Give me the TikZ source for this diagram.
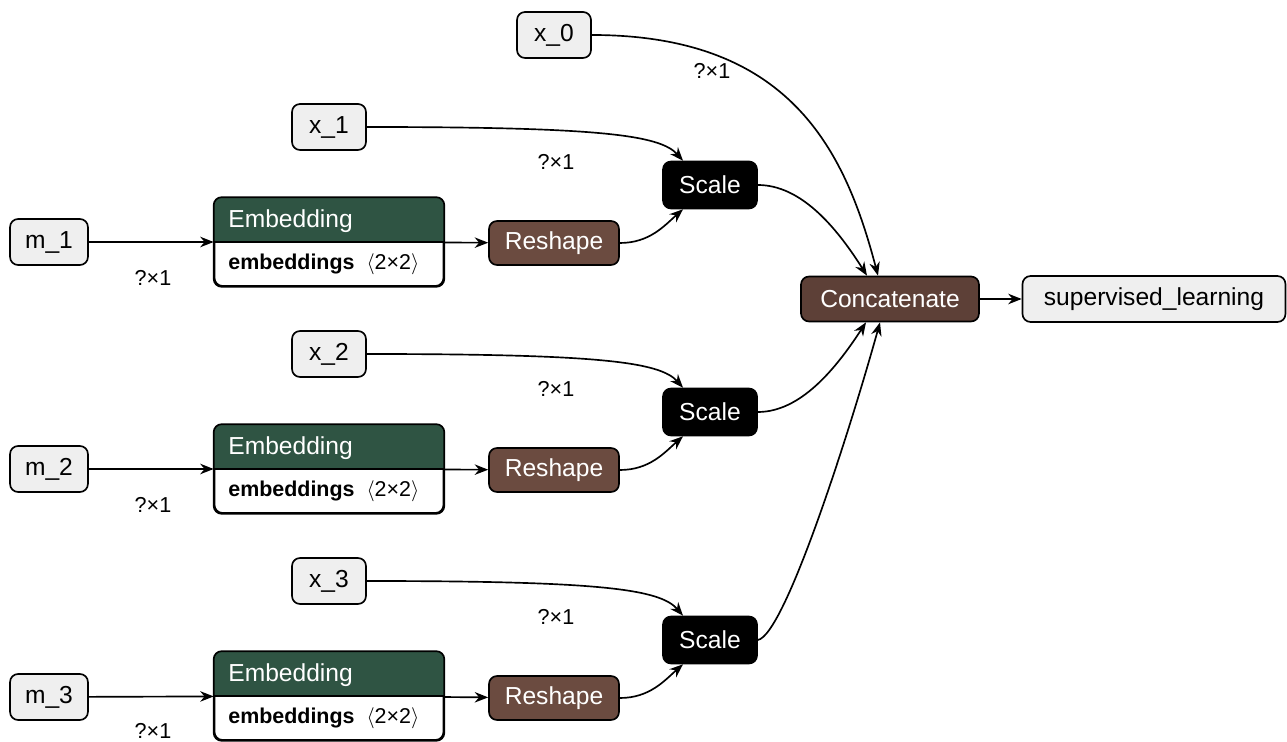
\documentclass[tikz,border=0pt]{standalone}
\usepackage{fontspec}
\setmainfont{Liberation Sans}
\usetikzlibrary{arrows.meta,calc}

\definecolor{inputgray}{HTML}{EFEFEF}
\definecolor{embgreen}{HTML}{2F5443}
\definecolor{reshapebrown}{HTML}{6B4B40}
\definecolor{concatbrown}{HTML}{5D4037}

\tikzstyle{box} = [draw=black, line width=0.95pt, rounded corners=0.16cm, font=\fontsize{14}{17}\selectfont]
\tikzstyle{iobox} = [box, fill=inputgray, minimum height=0.92cm, minimum width=1.48cm, inner xsep=0.3cm]
\tikzstyle{scalebox} = [box, fill=black, text=white, minimum height=0.94cm, minimum width=1.88cm]
\tikzstyle{reshapebox} = [box, fill=reshapebrown, text=white, minimum height=0.88cm, minimum width=2.6cm]
\tikzstyle{concatbox} = [box, fill=concatbrown, text=white, minimum height=0.9cm, minimum width=3.56cm]
\tikzstyle{embbox} = [box, fill=white, minimum height=1.76cm, minimum width=4.58cm]
\tikzstyle{embtitle} = [anchor=west, text=white, inner sep=0pt, font=\fontsize{14}{17}\selectfont]
\tikzstyle{embparam} = [anchor=west, inner sep=0pt, font=\fontsize{12.2}{14}\selectfont]
\tikzstyle{dimlabel} = [inner sep=0pt, font=\fontsize{12.3}{14}\selectfont]
\tikzstyle{link} = [line width=0.95pt, -{Stealth[length=0.27cm, width=0.21cm]}]

\begin{document}
\begin{tikzpicture}[x=0.02cm, y=-0.02cm]
\useasboundingbox (0,0) rectangle (1287,742);

% inputs
\node[iobox] (x0) at (554,35) {x\_0};
\node[iobox] (x1) at (329,127) {x\_1};
\node[iobox] (x2) at (329,354) {x\_2};
\node[iobox] (x3) at (329,581) {x\_3};
\node[iobox] (m1) at (49,242) {m\_1};
\node[iobox] (m2) at (49,469) {m\_2};
\node[iobox] (m3) at (49,697) {m\_3};

% embeddings
\node[embbox] (emb1) at (329,242) {};
\begin{scope}
  \clip (emb1.north west) rectangle (emb1.east);
  \fill[embgreen, rounded corners=0.16cm] (emb1.north west) rectangle (emb1.south east);
\end{scope}
\draw[line width=0.95pt, rounded corners=0.16cm] (emb1.north west) rectangle (emb1.south east);
\draw[line width=0.95pt] (emb1.west) -- (emb1.east);
\node[embtitle] (emb1t) at (228,221) {Embedding};
\node[embparam] (emb1p) at (228,264) {\textbf{embeddings}\ \ $\langle$2×2$\rangle$};

\node[embbox] (emb2) at (329,469) {};
\begin{scope}
  \clip (emb2.north west) rectangle (emb2.east);
  \fill[embgreen, rounded corners=0.16cm] (emb2.north west) rectangle (emb2.south east);
\end{scope}
\draw[line width=0.95pt, rounded corners=0.16cm] (emb2.north west) rectangle (emb2.south east);
\draw[line width=0.95pt] (emb2.west) -- (emb2.east);
\node[embtitle] (emb2t) at (228,448) {Embedding};
\node[embparam] (emb2p) at (228,491) {\textbf{embeddings}\ \ $\langle$2×2$\rangle$};

\node[embbox] (emb3) at (329,696) {};
\begin{scope}
  \clip (emb3.north west) rectangle (emb3.east);
  \fill[embgreen, rounded corners=0.16cm] (emb3.north west) rectangle (emb3.south east);
\end{scope}
\draw[line width=0.95pt, rounded corners=0.16cm] (emb3.north west) rectangle (emb3.south east);
\draw[line width=0.95pt] (emb3.west) -- (emb3.east);
\node[embtitle] (emb3t) at (228,675) {Embedding};
\node[embparam] (emb3p) at (228,718) {\textbf{embeddings}\ \ $\langle$2×2$\rangle$};

% layers
\node[reshapebox] (rs1) at (554,243) {Reshape};
\node[reshapebox] (rs2) at (554,470) {Reshape};
\node[reshapebox] (rs3) at (554,698) {Reshape};
\node[scalebox] (sc1) at (710,185) {Scale};
\node[scalebox] (sc2) at (710,412) {Scale};
\node[scalebox] (sc3) at (710,640) {Scale};
\node[concatbox] (cat) at (890,299) {Concatenate};
\node[iobox, minimum width=5.26cm] (out) at (1154,299) {supervised\_learning};

% shape labels
\node[dimlabel] (d0) at (712,71) {?×1};
\node[dimlabel] (d1) at (556,162) {?×1};
\node[dimlabel] (d2) at (556,389) {?×1};
\node[dimlabel] (d3) at (556,617) {?×1};
\node[dimlabel] (dm1) at (153,278) {?×1};
\node[dimlabel] (dm2) at (153,505) {?×1};
\node[dimlabel] (dm3) at (153,731) {?×1};

% connections
\draw[link] (m1) -- (emb1);
\draw[link] (m2) -- (emb2);
\draw[link] (m3) -- (emb3);
\draw[link] (emb1) -- (rs1);
\draw[link] (emb2) -- (rs2);
\draw[link] (emb3) -- (rs3);
\draw[link] (rs1.east) .. controls (650,243) and (665,225) .. ($(sc1.south)+(-27,0)$);
\draw[link] (rs2.east) .. controls (650,470) and (665,452) .. ($(sc2.south)+(-27,0)$);
\draw[link] (rs3.east) .. controls (650,698) and (665,680) .. ($(sc3.south)+(-27,0)$);
\draw[link] (x1.east) .. controls (600,127) and (660,135) .. ($(sc1.north)+(-27,0)$);
\draw[link] (x2.east) .. controls (600,354) and (660,362) .. ($(sc2.north)+(-27,0)$);
\draw[link] (x3.east) .. controls (600,581) and (660,589) .. ($(sc3.north)+(-27,0)$);
\draw[link] (x0.east) .. controls (790,35) and (845,150) .. ($(cat.north)+(-12,0)$);
\draw[link] (sc1.east) .. controls (800,185) and (835,225) .. ($(cat.north)+(-23,0)$);
\draw[link] (sc2.east) .. controls (800,412) and (835,370) .. ($(cat.south)+(-24,0)$);
\draw[link] (sc3.east) .. controls (785,635) and (850,430) .. ($(cat.south)+(-10,0)$);
\draw[link] (cat) -- (out);
\end{tikzpicture}
\end{document}
